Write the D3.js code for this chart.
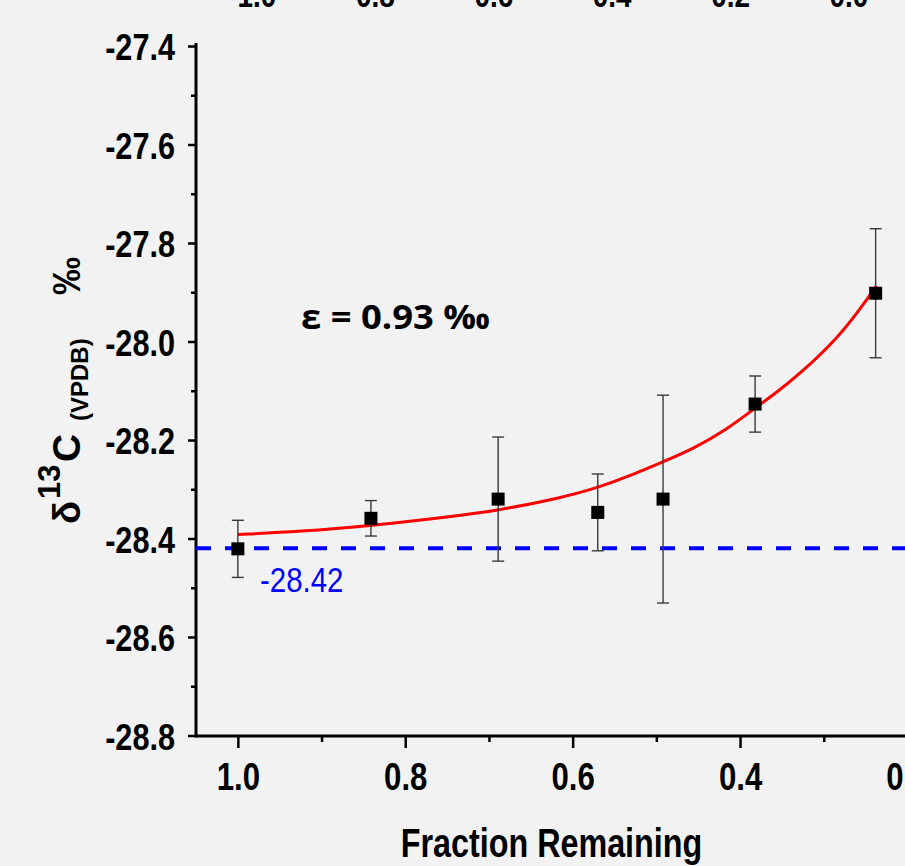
<!DOCTYPE html>
<html>
<head>
<meta charset="utf-8">
<script src="https://cdn.jsdelivr.net/npm/d3@7"></script>
<style>
  html, body { margin: 0; padding: 0; background: #f2f2f2; }
  svg { display: block; }
</style>
</head>
<body>
<svg id="chart" width="905" height="866"></svg>
<script>
// ---------------- DATA ----------------
const fraction   = [1.000, 0.841, 0.689, 0.570, 0.492, 0.382, 0.238];
const delta13C   = [-28.421, -28.359, -28.320, -28.347, -28.320, -28.127, -27.902];
const errorBar   = [0.058, 0.036, 0.126, 0.078, 0.211, 0.057, 0.131];

const fitFraction = [1.000, 0.926, 0.841, 0.747, 0.689, 0.615, 0.570, 0.535, 0.496, 0.456, 0.416, 0.382, 0.356, 0.328, 0.285, 0.257, 0.237];
const fitDelta    = [-28.392, -28.386, -28.374, -28.356, -28.343, -28.318, -28.297, -28.275, -28.247, -28.218, -28.179, -28.135, -28.103, -28.065, -27.996, -27.935, -27.887];

const baselineValue = -28.42;
const baselineLabel = "-28.42";
const epsilonLabel  = "ε = 0.93 ‰";

const yMajorTicks = [-27.4, -27.6, -27.8, -28.0, -28.2, -28.4, -28.6, -28.8];
const yMinorTicks = [-27.5, -27.7, -27.9, -28.1, -28.3, -28.5, -28.7];
const xMajorTicks = [1.0, 0.8, 0.6, 0.4, 0.2, 0.0];
const xMinorTicks = [0.9, 0.7, 0.5, 0.3, 0.1];
const topTickLabels = ["1.0", "0.8", "0.6", "0.4", "0.2", "0.0"];

// ---------------- SETUP ----------------
const svg = d3.select("#chart");
svg.append("rect").attr("width", 905).attr("height", 866).attr("fill", "#f2f2f2");

function hasFont(name) {
  const t = svg.append("text").style("font-size", "40px").text("Fraction Remaining 0.8");
  t.style("font-family", `"${name}", monospace`);
  const w1 = t.node().getComputedTextLength();
  t.style("font-family", "monospace");
  const w2 = t.node().getComputedTextLength();
  t.remove();
  return Math.abs(w1 - w2) > 1;
}
const narrowAvail = hasFont("Liberation Sans Narrow");
const NARROW = narrowAvail ? '"Liberation Sans Narrow", "Arial Narrow", sans-serif' : '"Liberation Sans", Arial, sans-serif';
const NF = narrowAvail ? 1 : 0.82;

function condense(sel, f) {
  if (f === 1) return;
  sel.each(function () {
    const w = this.getComputedTextLength();
    d3.select(this).attr("textLength", w * f).attr("lengthAdjust", "spacingAndGlyphs");
  });
}

const x = d3.scaleLinear().domain([1.05, 0]).range([196, 196 + 1.05 * 837]);
const y = d3.scaleLinear().domain([-28.8, -27.4]).range([735.5, 46]);

const axisColor = "#000";

// ---------------- TOP (cropped) LABELS ----------------
const topG = svg.append("g");
topG.selectAll("text").data(topTickLabels).join("text")
  .attr("x", (d, i) => 257 + 118.4 * i)
  .attr("y", 7)
  .attr("text-anchor", "middle")
  .style("font-family", NARROW).style("font-weight", "bold").style("font-size", "34px")
  .attr("fill", "#000")
  .text(d => d)
  .call(condense, NF);

// ---------------- Y AXIS ----------------
const yMajor = svg.append("g").attr("transform", "translate(196,0)")
  .call(d3.axisLeft(y).tickValues(yMajorTicks).tickSize(8).tickPadding(13).tickFormat(d3.format(".1f")));
yMajor.select(".domain").remove();
yMajor.selectAll(".tick line").attr("stroke", axisColor).attr("stroke-width", 2.5);
yMajor.selectAll(".tick text")
  .attr("dy", null).attr("y", 13.5)
  .style("font-family", NARROW).style("font-weight", "bold").style("font-size", "37px")
  .attr("fill", "#000")
  .text(d => d3.format(".1f")(d).replace("−", "-"))
  .call(condense, NF * 1.01);

const yMinor = svg.append("g").attr("transform", "translate(196,0)")
  .call(d3.axisLeft(y).tickValues(yMinorTicks).tickSize(5).tickFormat(""));
yMinor.select(".domain").remove();
yMinor.selectAll(".tick line").attr("stroke", axisColor).attr("stroke-width", 2.5);

// ---------------- X AXIS ----------------
const xMajor = svg.append("g").attr("transform", "translate(0,736)")
  .call(d3.axisBottom(x).tickValues(xMajorTicks).tickSize(12).tickPadding(0).tickFormat(d3.format(".1f")));
xMajor.select(".domain").remove();
xMajor.selectAll(".tick line").attr("stroke", axisColor).attr("stroke-width", 2.5);
xMajor.selectAll(".tick text")
  .attr("dy", null).attr("y", 54)
  .style("font-family", NARROW).style("font-weight", "bold").style("font-size", "38px")
  .attr("fill", "#000")
  .call(condense, NF);

const xMinor = svg.append("g").attr("transform", "translate(0,736)")
  .call(d3.axisBottom(x).tickValues(xMinorTicks).tickSize(6).tickFormat(""));
xMinor.select(".domain").remove();
xMinor.selectAll(".tick line").attr("stroke", axisColor).attr("stroke-width", 2.5);

// axis lines
svg.append("line").attr("x1", 196).attr("x2", 196).attr("y1", 43).attr("y2", 737.2)
  .attr("stroke", axisColor).attr("stroke-width", 3);
svg.append("line").attr("x1", 194.5).attr("x2", 905).attr("y1", 736).attr("y2", 736)
  .attr("stroke", axisColor).attr("stroke-width", 3);

// ---------------- AXIS TITLES ----------------
svg.append("text")
  .attr("x", 551.5).attr("y", 857)
  .attr("text-anchor", "middle")
  .style("font-family", NARROW).style("font-weight", "bold").style("font-size", "40px")
  .attr("fill", "#000")
  .text("Fraction Remaining")
  .call(condense, NF * 0.985);

const yl = svg.append("g").attr("transform", "translate(80,524) rotate(-90)")
  .style("font-family", '"Liberation Sans", Arial, sans-serif').style("font-weight", "bold").attr("fill", "#000");
yl.append("text").attr("x", 0).attr("y", 0).style("font-size", "38px").text("δ");
yl.append("text").attr("x", 25).attr("y", -20).style("font-size", "31px").text("13");
yl.append("text").attr("x", 62).attr("y", 0).style("font-size", "39px").text("C");
yl.append("text").attr("x", 103).attr("y", 8).style("font-size", "24px").text("(VPDB)");
yl.append("text").attr("x", 229).attr("y", 0).style("font-size", "38px").text("‰");

// ---------------- BASELINE ----------------
svg.append("line")
  .attr("x1", 196).attr("x2", 905)
  .attr("y1", y(baselineValue)).attr("y2", y(baselineValue))
  .attr("stroke", "#0000ff").attr("stroke-width", 4)
  .attr("stroke-dasharray", "15,14");

svg.append("text")
  .attr("x", 260).attr("y", 591.5)
  .style("font-family", NARROW).style("font-size", "35px")
  .attr("fill", "#0000ff")
  .text(baselineLabel)
  .call(condense, narrowAvail ? 1 : 0.84);

// ---------------- FIT CURVE ----------------
const fitData = fitFraction.map((f, i) => ({ f, v: fitDelta[i] }));
svg.append("path")
  .datum(fitData)
  .attr("d", d3.line().x(d => x(d.f)).y(d => y(d.v)).curve(d3.curveBasis))
  .attr("fill", "none").attr("stroke", "#ff0000").attr("stroke-width", 3);

// ---------------- ERROR BARS + POINTS ----------------
const pts = fraction.map((f, i) => ({ f, v: delta13C[i], e: errorBar[i] }));
const eb = svg.append("g").attr("stroke", "#3a3a3a").attr("stroke-width", 1.4);
eb.selectAll("line.v").data(pts).join("line").attr("class", "v")
  .attr("x1", d => x(d.f)).attr("x2", d => x(d.f))
  .attr("y1", d => y(d.v + d.e)).attr("y2", d => y(d.v - d.e));
eb.selectAll("line.t").data(pts).join("line").attr("class", "t")
  .attr("x1", d => x(d.f) - 6).attr("x2", d => x(d.f) + 6)
  .attr("y1", d => y(d.v + d.e)).attr("y2", d => y(d.v + d.e));
eb.selectAll("line.b").data(pts).join("line").attr("class", "b")
  .attr("x1", d => x(d.f) - 6).attr("x2", d => x(d.f) + 6)
  .attr("y1", d => y(d.v - d.e)).attr("y2", d => y(d.v - d.e));

svg.append("g").selectAll("rect").data(pts).join("rect")
  .attr("x", d => x(d.f) - 6.5).attr("y", d => y(d.v) - 6.5)
  .attr("width", 13).attr("height", 13)
  .attr("fill", "#000");

// ---------------- EPSILON LABEL ----------------
svg.append("text")
  .attr("x", 301).attr("y", 328.5)
  .style("font-family", '"Open Sans", "Noto Sans", sans-serif').style("font-weight", "bold").style("font-size", "34px")
  .attr("fill", "#000")
  .attr("textLength", 189).attr("lengthAdjust", "spacingAndGlyphs")
  .text(epsilonLabel);
</script>
</body>
</html>
